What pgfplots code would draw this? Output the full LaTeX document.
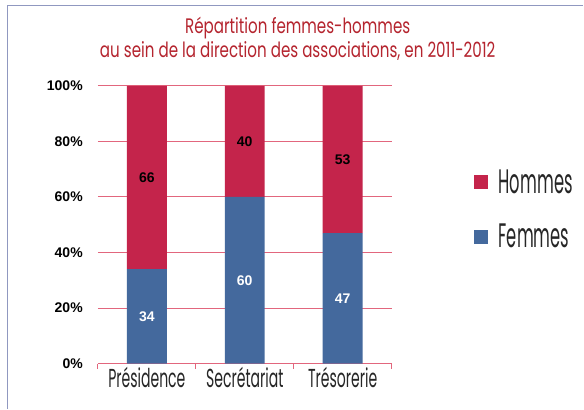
\documentclass[border=0pt]{standalone}
\usepackage{pgfplots}
\pgfplotsset{compat=1.18}
\usepackage{fontspec}
\setmainfont{Liberation Sans}
\newfontfamily\cond[FakeStretch=0.54]{Poppins}
\newfontfamily\condl[FakeStretch=0.48]{Poppins}
\newfontfamily\condt[FakeStretch=0.72]{Poppins}
\definecolor{hom}{HTML}{C4244B}
\definecolor{fem}{HTML}{44699D}
\definecolor{gridc}{HTML}{E2667D}
\definecolor{titlec}{HTML}{B5252F}
\definecolor{framec}{HTML}{9098C0}
\begin{document}
\begin{tikzpicture}
\path[fill=white] (0pt,0pt) rectangle (584pt,409pt);
\draw[framec, line width=1.2pt] (7.5pt,0pt) -- (7.5pt,403.5pt) -- (584pt,403.5pt);
\node[align=center, text=titlec, font=\condt\fontsize{21}{24}\selectfont] at (298pt,370pt) {Répartition femmes-hommes\\au sein de la direction des associations, en 2011-2012};
\begin{axis}[at={(98pt,45pt)}, anchor=south west, scale only axis, width=294pt, height=278pt,
  ybar stacked, bar width=40pt,
  xmin=-0.5, xmax=2.5, ymin=0, ymax=100,
  xtick={0,1,2}, xticklabels={Présidence,Secrétariat,Trésorerie},
  minor xtick={-0.5,0.5,1.5,2.5},
  ytick={0,20,40,60,80,100},
  /pgf/number format/assume math mode=true,
  yticklabel={\pgfmathprintnumber{\tick}\%},
  axis x line*=bottom, axis y line*=left,
  x axis line style={gridc, line width=1pt, -},
  y axis line style={draw=none},
  ymajorgrids, grid style={gridc, line width=1pt},
  major tick length=0pt, minor tick length=5pt, tick align=outside,
  minor tick style={gridc, line width=1pt},
  ytick style={draw=none},
  yticklabel style={font=\bfseries\fontsize{14}{14}\selectfont, inner sep=0pt, xshift=-15pt},
  xticklabel style={font=\cond\fontsize{26}{26}\selectfont, text=black!85},
  legend style={at={(1.279,0.555)}, anchor=west, draw=none, fill=none,
    font=\condl\fontsize{34}{34}\selectfont, row sep=25pt, inner sep=0pt, text=black!85},
  legend cell align=left, reverse legend,
  legend image code/.code={\fill[#1] (0pt,-7pt) rectangle (14pt,7pt); \path (23pt,0pt);},
]
\addplot[fill=fem, draw=none] coordinates {(0,34) (1,60) (2,47)};
\addplot[fill=hom, draw=none] coordinates {(0,66) (1,40) (2,53)};
\legend{Femmes, Hommes}
\end{axis}
\begin{axis}[at={(98pt,45pt)}, anchor=south west, scale only axis, width=294pt, height=278pt,
  xmin=-0.5, xmax=2.5, ymin=0, ymax=100, hide axis]
\addplot[draw=none, nodes near coords, point meta=explicit symbolic,
  every node near coord/.append style={anchor=center, text=white, font=\bfseries\fontsize{14}{14}\selectfont}]
  coordinates {(0,17)[34] (1,30)[60] (2,23.5)[47]};
\addplot[draw=none, nodes near coords, point meta=explicit symbolic,
  every node near coord/.append style={anchor=center, text=black, font=\bfseries\fontsize{14}{14}\selectfont}]
  coordinates {(0,67)[66] (1,80)[40] (2,73.5)[53]};
\end{axis}
\end{tikzpicture}
\end{document}
